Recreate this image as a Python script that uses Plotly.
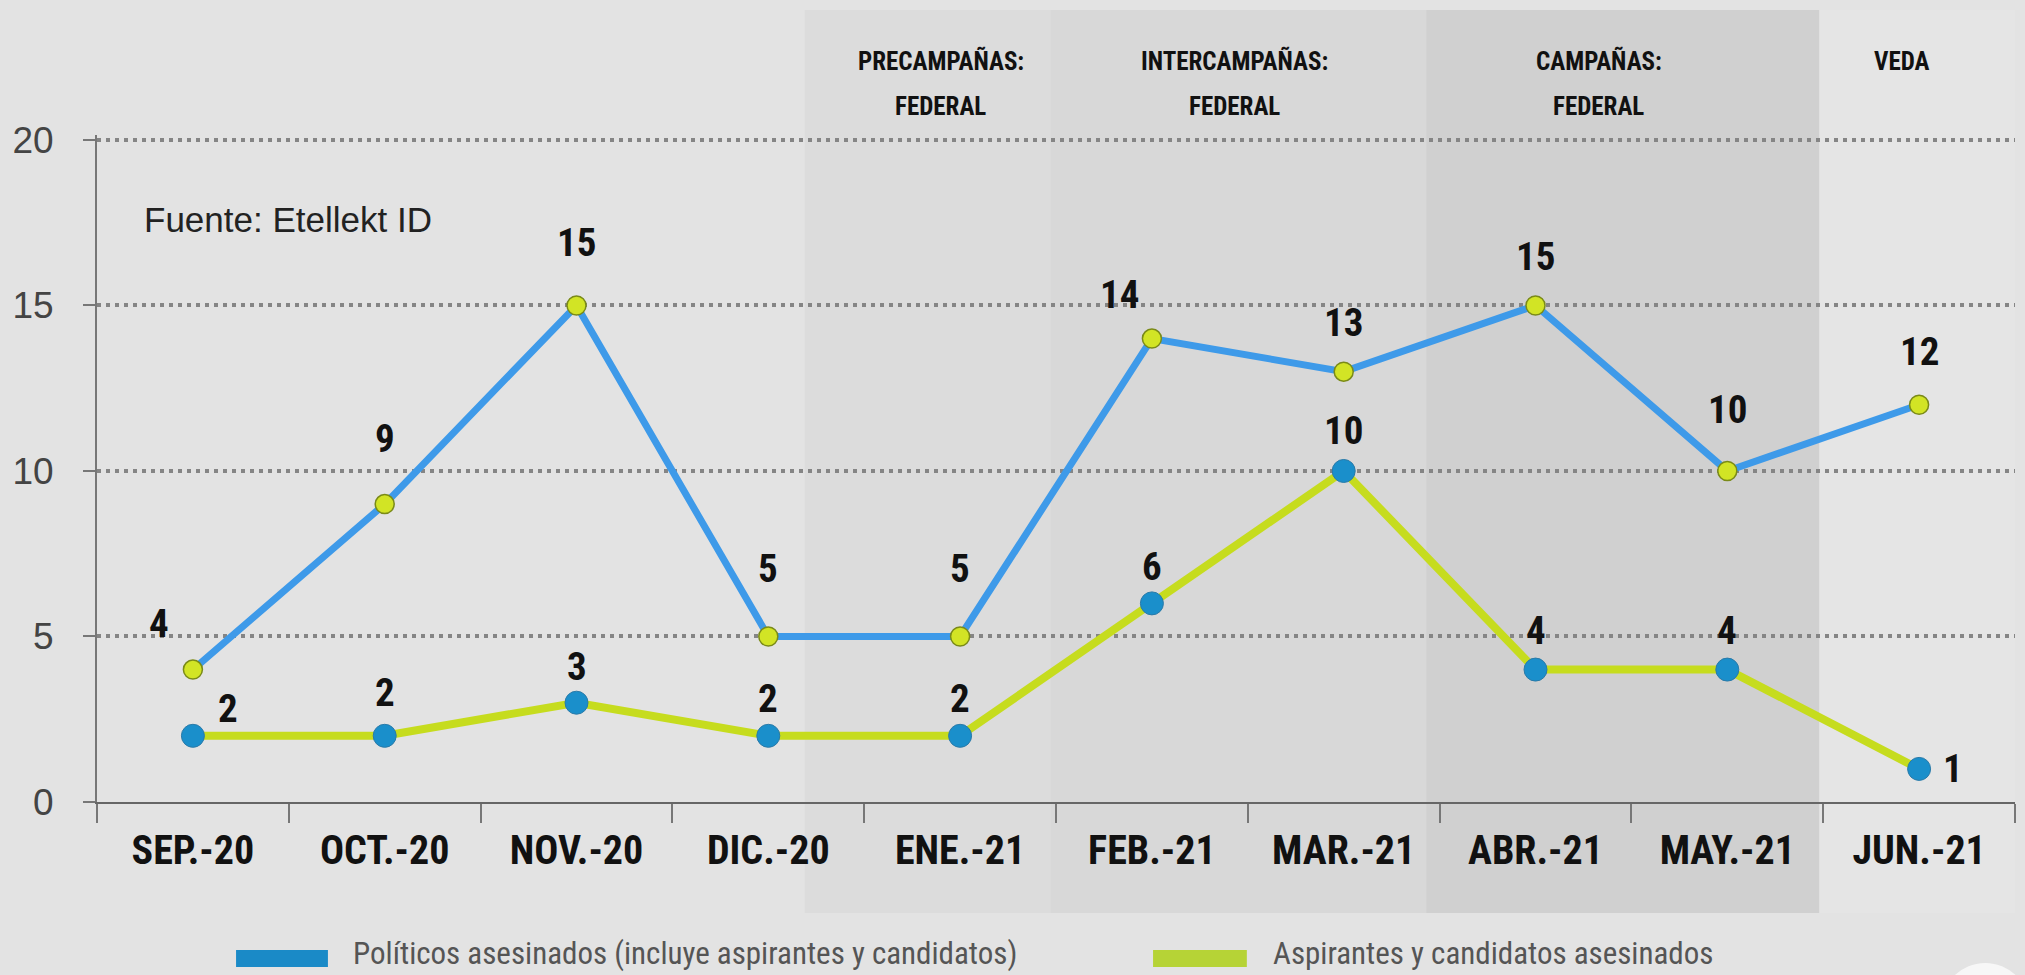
import plotly.graph_objects as go

months = ["SEP.-20", "OCT.-20", "NOV.-20", "DIC.-20", "ENE.-21",
          "FEB.-21", "MAR.-21", "ABR.-21", "MAY.-21", "JUN.-21"]
politicos = [4, 9, 15, 5, 5, 14, 13, 15, 10, 12]
aspirantes = [2, 2, 3, 2, 2, 6, 10, 4, 4, 1]
y_ticks = [0, 5, 10, 15, 20]
grid_vals = [5, 10, 15, 20]

# electoral periods (start/end in category-index units)
period_line1 = ["PRECAMPAÑAS:", "INTERCAMPAÑAS:", "CAMPAÑAS:", "VEDA"]
period_line2 = ["FEDERAL", "FEDERAL", "FEDERAL", ""]
period_start = [3.19, 4.47, 6.43, 8.48]
period_end = [4.47, 6.43, 8.48, 9.5]
period_label_x = [3.90, 5.43, 7.33, 8.91]

name_pol = "Políticos asesinados (incluye aspirantes y candidatos)"
name_asp = "Aspirantes y candidatos asesinados"
source = "Fuente: Etellekt ID"

# label offsets (pixels) – styling only
pol_dx = [-34, 0, 0, 0, 0, -32, 0, 0, 0, 0]
pol_dy = [46, 65, 62, 67, 67, 44, 49, 48, 61, 53]
asp_dx = [35, 0, 0, 0, 0, 0, 0, 0, 0, 34]
asp_dy = [27, 43, 36, 37, 37, 36, 40, 39, 39, 0]

NARROW = "Roboto Condensed, DejaVu Sans Condensed, sans-serif"
REG = "Liberation Sans, Arial, sans-serif"
BG = "#e3e3e3"
shade_colors = ["#dcdcdc", "#d8d8d8", "#d0d0d0", "#e5e5e5"]
Y_MAX = 20.15


def nfont(size, color="#111", weight="bold"):
    return dict(family=NARROW, size=size, color=color, weight=weight)


fig = go.Figure()

fig.add_trace(go.Scatter(
    x=months, y=politicos, mode="lines+markers", name=name_pol,
    line=dict(color="#3e9ae9", width=7),
    marker=dict(size=19, color="#d2e425", line=dict(color="#7a8a18", width=1.5)),
    showlegend=False, cliponaxis=False))
fig.add_trace(go.Scatter(
    x=months, y=aspirantes, mode="lines+markers", name=name_asp,
    line=dict(color="#c6dc1e", width=8),
    marker=dict(size=23, color="#1a8fcb", line=dict(color="#2a7aa8", width=1)),
    showlegend=False, cliponaxis=False))
# invisible trace so that the grid axis is drawn
fig.add_trace(go.Scatter(x=months, y=politicos, yaxis="y2", mode="none",
                         showlegend=False, hoverinfo="skip"))

shapes = []
for s, e, c in zip(period_start, period_end, shade_colors):
    shapes.append(dict(type="rect", xref="x", yref="paper", x0=s, x1=e,
                       y0=-0.1664, y1=1.1874, fillcolor=c, line=dict(width=0),
                       layer="below"))

# legend swatches
shapes.append(dict(type="rect", xref="paper", yref="paper", x0=0.0725, x1=0.1204,
                   y0=-0.2474, y1=-0.2219, fillcolor="#1a8ac7", line=dict(width=0)))
shapes.append(dict(type="rect", xref="paper", yref="paper", x0=0.5506, x1=0.5995,
                   y0=-0.2474, y1=-0.2219, fillcolor="#b6d336", line=dict(width=0)))
# logo fragment bottom-right
shapes.append(dict(type="circle", xref="paper", yref="paper", x0=0.961, x1=1.008,
                   y0=-0.3793, y1=-0.2414, fillcolor="#f7f7f7", line=dict(width=0)))

annotations = []
for i, m in enumerate(months):
    annotations.append(dict(x=m, y=politicos[i], text=str(politicos[i]), showarrow=False,
                            xshift=pol_dx[i], yshift=pol_dy[i], font=nfont(39)))
    annotations.append(dict(x=m, y=aspirantes[i], text=str(aspirantes[i]), showarrow=False,
                            xshift=asp_dx[i], yshift=asp_dy[i], font=nfont(39)))

for l1, l2, lx in zip(period_line1, period_line2, period_label_x):
    annotations.append(dict(x=lx, xref="x", y=1.1109, yref="paper", text=l1, showarrow=False,
                            yanchor="middle", font=nfont(25)))
    if l2:
        annotations.append(dict(x=lx, xref="x", y=1.0420, yref="paper", text=l2,
                                showarrow=False, yanchor="middle", font=nfont(25)))

annotations.append(dict(x=0.0235, y=0.8726, xref="paper", yref="paper", text=source,
                        showarrow=False, xanchor="left", yanchor="middle",
                        font=dict(family=REG, size=35, color="#222")))
annotations.append(dict(x=0.1324, y=-0.2580, xref="paper", yref="paper", text=name_pol,
                        showarrow=False, xanchor="left", yanchor="bottom",
                        font=nfont(31, "#555", "normal")))
annotations.append(dict(x=0.6121, y=-0.2580, xref="paper", yref="paper", text=name_asp,
                        showarrow=False, xanchor="left", yanchor="bottom",
                        font=nfont(31, "#555", "normal")))

fig.update_layout(
    width=2025, height=975,
    margin=dict(l=97, r=10, t=135, b=173),
    paper_bgcolor=BG, plot_bgcolor="rgba(0,0,0,0)",
    shapes=shapes, annotations=annotations, showlegend=False,
    xaxis=dict(type="category", categoryorder="array", categoryarray=months,
               range=[-0.5, 9.5], showgrid=False, showline=True, linecolor="#666",
               linewidth=2, ticks="outside", tickson="boundaries", ticklen=19,
               tickwidth=1.5, tickcolor="#777", ticklabelstandoff=12,
               tickfont=nfont(40)),
    yaxis=dict(range=[0, Y_MAX], tickvals=y_ticks, showgrid=False, zeroline=False,
               showline=True, linecolor="#777", linewidth=2, ticks="outside",
               ticklen=12, tickcolor="#777", tickwidth=1.5, ticklabelstandoff=22,
               tickfont=dict(family=REG, size=37, color="#444")),
    yaxis2=dict(range=[0, Y_MAX], overlaying="y", tickvals=grid_vals, showgrid=True,
                gridcolor="#858585", gridwidth=4, griddash="4px,5px",
                showticklabels=False, zeroline=False, showline=False, ticks=""),
)

fig.write_html("out.html", config={"displayModeBar": False},
               post_script="document.body.style.margin='0';")
